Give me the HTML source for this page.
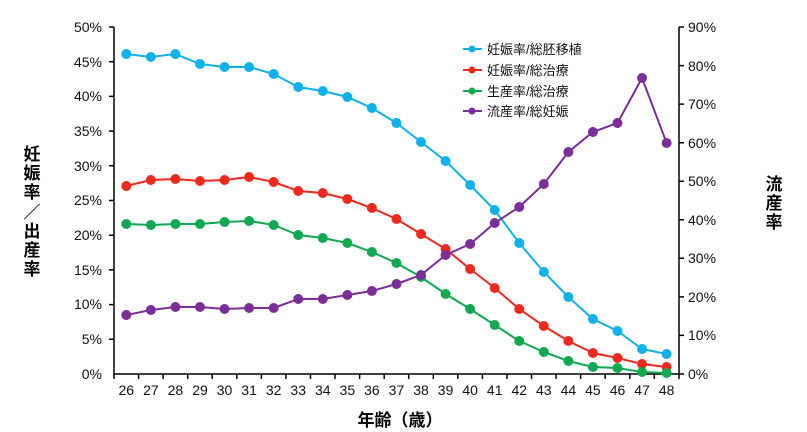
<!DOCTYPE html>
<html><head><meta charset="utf-8"><style>
html,body{margin:0;padding:0;background:#fff;}
svg{display:block;font-family:"Liberation Sans","Noto Sans CJK JP",sans-serif;}
</style></head><body>
<svg width="807" height="432" viewBox="0 0 807 432" xmlns="http://www.w3.org/2000/svg">
<g stroke="#000" stroke-width="1.5" fill="none">
<path d="M114,27V374H679V27"/>
<path id="lt" d="M109,27H114M109,61.7H114M109,96.4H114M109,131.1H114M109,165.8H114M109,200.5H114M109,235.2H114M109,269.9H114M109,304.6H114M109,339.3H114"/>
<path d="M679,27H684M679,65.6H684M679,104.1H684M679,142.7H684M679,181.2H684M679,219.8H684M679,258.3H684M679,296.9H684M679,335.4H684M679,374H684"/>
<path d="M114,374v5M138.6,374v5M163.1,374v5M187.7,374v5M212.2,374v5M236.8,374v5M261.4,374v5M285.9,374v5M310.5,374v5M335,374v5M359.6,374v5M384.2,374v5M408.7,374v5M433.3,374v5M457.8,374v5M482.4,374v5M507,374v5M531.5,374v5M556.1,374v5M580.6,374v5M605.2,374v5M629.8,374v5M654.3,374v5M679,374v5"/>
</g>
<g font-size="14" fill="#111" text-anchor="end">
<text x="102" y="32">50%</text><text x="102" y="67">45%</text><text x="102" y="101">40%</text><text x="102" y="136">35%</text><text x="102" y="171">30%</text><text x="102" y="205">25%</text><text x="102" y="240">20%</text><text x="102" y="275">15%</text><text x="102" y="309">10%</text><text x="102" y="344">5%</text><text x="102" y="379">0%</text>
</g>
<g font-size="14" fill="#111">
<text x="688" y="32">90%</text><text x="688" y="71">80%</text><text x="688" y="109">70%</text><text x="688" y="148">60%</text><text x="688" y="186">50%</text><text x="688" y="225">40%</text><text x="688" y="263">30%</text><text x="688" y="302">20%</text><text x="688" y="340">10%</text><text x="688" y="379">0%</text>
</g>
<g font-size="14" fill="#111" text-anchor="middle" id="xl"></g>
<g font-size="17" font-weight="bold" fill="#000" text-anchor="middle">
<text x="32" y="160">妊</text><text x="32" y="179">娠</text><text x="32" y="198">率</text><text x="32" y="218">／</text><text x="32" y="237">出</text><text x="32" y="256">産</text><text x="32" y="275">率</text>
<text x="774" y="190">流</text><text x="774" y="209">産</text><text x="774" y="228">率</text>
<text x="400" y="426">年齢（歳）</text>
</g>
<g id="series"></g>
<g font-size="13" fill="#111">
<line x1="463" y1="49" x2="482" y2="49" stroke="#10b0e8" stroke-width="2"/><circle cx="472" cy="49" r="3.5" fill="#10b0e8"/><text x="487" y="54">妊娠率/総胚移植</text>
<line x1="463" y1="70" x2="482" y2="70" stroke="#ee2a1e" stroke-width="2"/><circle cx="472" cy="70" r="3.5" fill="#ee2a1e"/><text x="487" y="75">妊娠率/総治療</text>
<line x1="463" y1="91" x2="482" y2="91" stroke="#10a850" stroke-width="2"/><circle cx="472" cy="91" r="3.5" fill="#10a850"/><text x="487" y="96">生産率/総治療</text>
<line x1="463" y1="111" x2="482" y2="111" stroke="#7b2d98" stroke-width="2"/><circle cx="472" cy="111" r="3.5" fill="#7b2d98"/><text x="487" y="116">流産率/総妊娠</text>
</g>
<script>
var ns="http://www.w3.org/2000/svg";
var xl=document.getElementById("xl"),sg=document.getElementById("series");
function X(i){return 126.3+i*24.56;}
for(var i=0;i<23;i++){var t=document.createElementNS(ns,"text");t.setAttribute("x",X(i));t.setAttribute("y",395);t.textContent=26+i;xl.appendChild(t);}
var S=[
["#10b0e8",[54,57,54,64,67,67,74,87,91,97,108,123,142,161,185,210,243,272,297,319,331,349,354]],
["#ee2a1e",[186,180,179,181,180,177,182,191,193,199,208,219,234,249,269,288,309,326,341,353,358,364,367]],
["#10a850",[224,225,224,224,222,221,225,235,238,243,252,263,277,294,309,325,341,352,361,367,368,372,373]],
["#7b2d98",[315,310,307,307,309,308,308,299,299,295,291,284,275,255,244,223,207,184,152,132,123,78,143]]];
S.forEach(function(s){var d="";s[1].forEach(function(y,i){d+=(i?"L":"M")+X(i)+","+y;});
var p=document.createElementNS(ns,"path");p.setAttribute("d",d);p.setAttribute("stroke",s[0]);p.setAttribute("stroke-width","2");p.setAttribute("fill","none");sg.appendChild(p);
s[1].forEach(function(y,i){var c=document.createElementNS(ns,"circle");c.setAttribute("cx",X(i));c.setAttribute("cy",y);c.setAttribute("r","5");c.setAttribute("fill",s[0]);sg.appendChild(c);});});
</script>
</svg>
</body></html>
